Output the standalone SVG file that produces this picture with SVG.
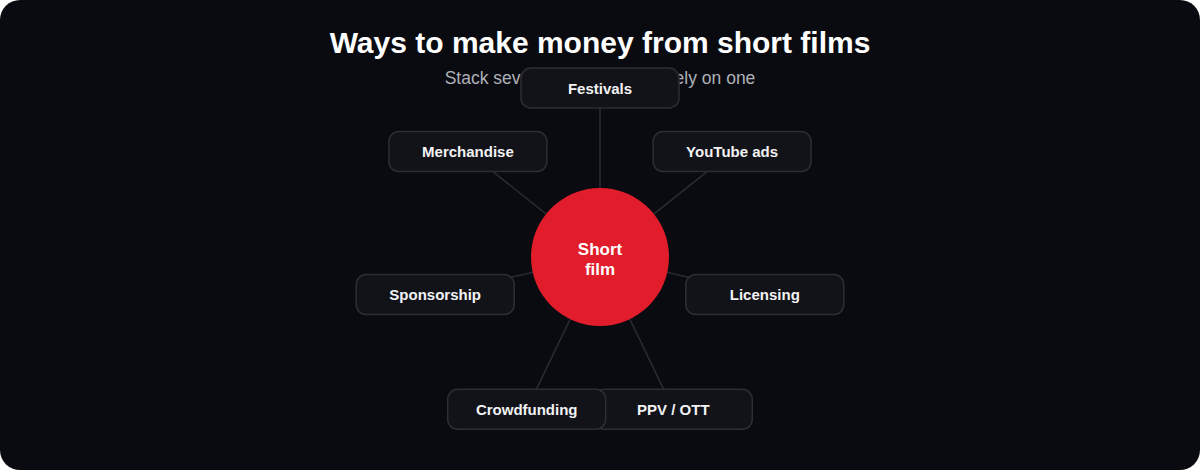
<svg xmlns="http://www.w3.org/2000/svg" width="1200" height="470" viewBox="0 0 1200 470">
  <style>
    .title { font-family: "Liberation Sans", Arial, sans-serif; font-weight: bold; font-size: 30px; fill: #ffffff; }
    .subtitle { font-family: "Liberation Sans", Arial, sans-serif; font-size: 17.5px; fill: #aeb1b8; }
    .box { fill: #121319; stroke: #2c2e35; stroke-width: 1.5; }
    .label { font-family: "Liberation Sans", Arial, sans-serif; font-weight: bold; font-size: 15px; fill: #f2f2f4; text-anchor: middle; }
    .hub-label { font-family: "Liberation Sans", Arial, sans-serif; font-weight: bold; font-size: 17px; fill: #ffffff; text-anchor: middle; }
    .edge { stroke: #2a2c33; stroke-width: 1.5; fill: none; }
  </style>
  <rect x="0" y="0" width="1200" height="470" rx="20" ry="20" fill="#0a0b10"/>
  <text class="title" x="600" y="52.5" text-anchor="middle">Ways to make money from short films</text>
  <text class="subtitle" x="600" y="84" text-anchor="middle">Stack several streams, don't rely on one</text>

  <g id="connectors">
    <line class="edge" x1="600" y1="257" x2="600" y2="88"/>
    <line class="edge" x1="600" y1="257" x2="732.1" y2="151.6"/>
    <line class="edge" x1="600" y1="257" x2="764.8" y2="294.6"/>
    <line class="edge" x1="600" y1="257" x2="673.3" y2="409.3"/>
    <line class="edge" x1="600" y1="257" x2="526.7" y2="409.3"/>
    <line class="edge" x1="600" y1="257" x2="435.2" y2="294.6"/>
    <line class="edge" x1="600" y1="257" x2="467.9" y2="151.6"/>
  </g>

  <g id="node-festivals">
    <rect class="box" x="521" y="68" width="158" height="40" rx="10"/>
    <text class="label" x="600" y="93.5">Festivals</text>
  </g>
  <g id="node-youtube-ads">
    <rect class="box" x="653.1" y="131.6" width="158" height="40" rx="10"/>
    <text class="label" x="732.1" y="157">YouTube ads</text>
  </g>
  <g id="node-licensing">
    <rect class="box" x="685.8" y="274.6" width="158" height="40" rx="10"/>
    <text class="label" x="764.8" y="300">Licensing</text>
  </g>
  <g id="node-ppv-ott">
    <rect class="box" x="594.3" y="389.3" width="158" height="40" rx="10"/>
    <text class="label" x="673.3" y="414.7">PPV / OTT</text>
  </g>
  <g id="node-crowdfunding">
    <rect class="box" x="447.7" y="389.3" width="158" height="40" rx="10"/>
    <text class="label" x="526.7" y="414.7">Crowdfunding</text>
  </g>
  <g id="node-sponsorship">
    <rect class="box" x="356.2" y="274.6" width="158" height="40" rx="10"/>
    <text class="label" x="435.2" y="300">Sponsorship</text>
  </g>
  <g id="node-merchandise">
    <rect class="box" x="388.9" y="131.6" width="158" height="40" rx="10"/>
    <text class="label" x="467.9" y="157">Merchandise</text>
  </g>

  <g id="node-short-film">
    <circle cx="600" cy="257" r="69" fill="#e11d2b"/>
    <text class="hub-label" x="600" y="255">Short</text>
    <text class="hub-label" x="600" y="274.5">film</text>
  </g>
</svg>
